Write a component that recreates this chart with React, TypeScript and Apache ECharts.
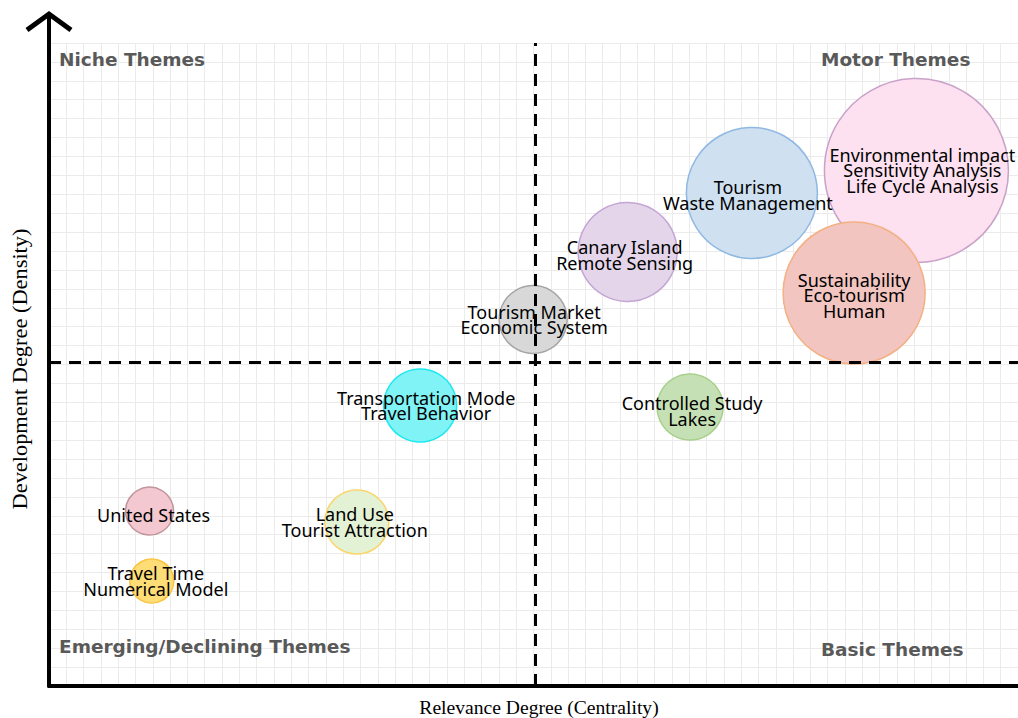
import React, { useEffect, useRef } from "react";
import * as echarts from "echarts";

// ---- data ----
const themeLabels = [
  "Environmental impact\nSensitivity Analysis\nLife Cycle Analysis",
  "Tourism\nWaste Management",
  "Canary Island\nRemote Sensing",
  "Sustainability\nEco-tourism\nHuman",
  "Tourism Market\nEconomic System",
  "Transportation Mode\nTravel Behavior",
  "Controlled Study\nLakes",
  "United States",
  "Travel Time\nNumerical Model",
  "Land Use\nTourist Attraction",
];
const centrality = [50.13, 40.62, 33.44, 46.53, 27.98, 21.45, 37.05, 5.81, 5.94, 17.79];
const density = [27.26, 26.07, 22.95, 20.78, 19.38, 14.83, 14.75, 9.25, 5.55, 8.67];
const bubbleWeight = [184, 131, 99, 142, 68, 73, 66, 48, 44, 64];

const centralityThreshold = 28.13;
const densityThreshold = 17.1;
const xMax = 56;
const yMax = 34;

const quadrantNames = ["Niche Themes", "Motor Themes", "Emerging/Declining Themes", "Basic Themes"];
const xAxisTitle = "Relevance Degree (Centrality)";
const yAxisTitle = "Development Degree (Density)";

// ---- styles ----
const bubbleFills = [
  "#fde1f0", "#cfe0f1", "#e4d5ea", "#f2c5c1", "#d8d8d8",
  "#80f3f6", "#c6e0b5", "#f4c8d0", "#fedc76", "#e3f2d4",
];
const bubbleBorders = [
  "#c9a2c9", "#8fb8e3", "#c4a5d5", "#f3b183", "#a5a5a5",
  "#1ee8ef", "#a8d08d", "#c0969c", "#f9c440", "#fbd56b",
];
const labelOffsets = [
  [6, 0], [-4, 2], [-3, 3], [0, 2], [1, 0],
  [6, 0], [2, 4], [4, 4], [4, 0], [-2, 0],
];
const quadrantPos = [
  [59, 59],
  [821, 59],
  [59, 646],
  [821, 649],
];

export default function App() {
  const ref = useRef<HTMLDivElement>(null);

  useEffect(() => {
    if (!ref.current) return;
    const chart = echarts.init(ref.current, null, { renderer: "svg" });

    const data = themeLabels.map((name, i) => ({
      name,
      value: [centrality[i], density[i], bubbleWeight[i]],
      itemStyle: {
        color: bubbleFills[i],
        borderColor: bubbleBorders[i],
        borderWidth: 1.5,
        opacity: 1,
      },
      label: { offset: labelOffsets[i] },
    }));

    const quadGraphics = quadrantNames.map((t, i) => ({
      type: "text",
      x: quadrantPos[i][0],
      y: quadrantPos[i][1],
      z: 1,
      style: {
        text: t,
        font: "bold 18.5px 'DejaVu Sans'",
        fill: "#595959",
        textAlign: "left",
        textVerticalAlign: "middle",
        align: "left",
        verticalAlign: "middle",
      },
    }));

    chart.setOption({
      animation: false,
      backgroundColor: "#ffffff",
      grid: { left: 49, right: 0, top: 43, bottom: 32, containLabel: false },
      xAxis: {
        type: "value",
        min: 0,
        max: xMax,
        interval: 1,
        axisLine: { show: true, onZero: false, lineStyle: { color: "#000", width: 4 } },
        axisTick: { show: false },
        axisLabel: { show: false },
        splitLine: { show: true, lineStyle: { color: "#ebebeb", width: 1 } },
      },
      yAxis: {
        type: "value",
        min: 0,
        max: yMax,
        interval: 1,
        axisLine: { show: true, onZero: false, lineStyle: { color: "#000", width: 4 } },
        axisTick: { show: false },
        axisLabel: { show: false },
        splitLine: { show: true, lineStyle: { color: "#ebebeb", width: 1 } },
      },
      series: [
        {
          type: "scatter",
          data,
          symbol: "circle",
          symbolSize: (v: number[]) => v[2],
          itemStyle: { opacity: 1 },
          label: {
            show: true,
            position: "inside",
            formatter: "{b}",
            color: "#000",
            fontFamily: "'Noto Sans'",
            fontSize: 18,
            lineHeight: 15.5,
          },
          markLine: {
            silent: true,
            symbol: "none",
            z: 5,
            label: { show: false },
            lineStyle: { color: "#000", width: 3, type: [12, 8], opacity: 1 },
            data: [{ xAxis: centralityThreshold }, { yAxis: densityThreshold }],
          },
        },
      ],
      graphic: [
        ...quadGraphics,
        {
          type: "line",
          shape: { x1: 49, y1: 16, x2: 49, y2: 45 },
          style: { stroke: "#000", lineWidth: 4 },
        },
        {
          type: "polyline",
          shape: { points: [[27, 30], [49, 14], [71, 30]] },
          style: { stroke: "#000", lineWidth: 5, fill: null, lineJoin: "miter" },
        },
        {
          type: "text",
          x: 539,
          y: 707,
          style: {
            text: xAxisTitle,
            font: "19.6px 'Liberation Serif'",
            fill: "#000",
            textAlign: "center",
            textVerticalAlign: "middle",
            align: "center",
            verticalAlign: "middle",
          },
        },
        {
          type: "text",
          x: 20,
          y: 369,
          rotation: Math.PI / 2,
          scaleX: 1.12,
          style: {
            text: yAxisTitle,
            font: "20px 'Liberation Serif'",
            fill: "#000",
            textAlign: "center",
            textVerticalAlign: "middle",
            align: "center",
            verticalAlign: "middle",
          },
        },
      ],
    });

    return () => chart.dispose();
  }, []);

  return (
    <div
      ref={ref}
      style={{ position: "fixed", left: 0, top: 0, width: 1018, height: 718, background: "#fff" }}
    />
  );
}
